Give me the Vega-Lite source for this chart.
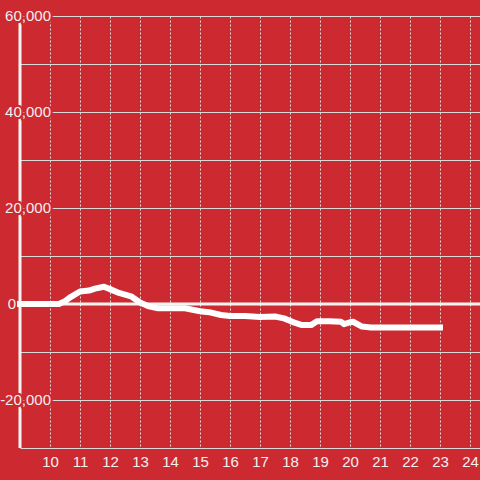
{
  "$schema": "https://vega.github.io/schema/vega-lite/v6.json",
  "width": 460,
  "height": 432,
  "autosize": {"type": "none"},
  "padding": {"left": 20, "top": 16, "right": 0, "bottom": 32},
  "background": "#cc2a30",
  "config": {
    "view": {"stroke": null},
    "font": "Liberation Sans",
    "axisX": {
      "grid": true, "gridDash": [2, 2], "gridColor": "#dddddd", "gridOpacity": 1,
      "domain": false, "ticks": false, "labelOverlap": false,
      "labelColor": "#f0f0f0", "labelFontSize": 15, "labelPadding": 6,
      "labelFlush": false, "labelFont": "Liberation Sans", "title": null
    },
    "axisY": {
      "grid": true, "gridColor": "#d9d9d9", "gridOpacity": 1,
      "labels": false, "domain": false, "ticks": false, "title": null
    }
  },
  "datasets": {
    "series": [
      {"hour": 9.0, "value": 0},
      {"hour": 10.0, "value": 0},
      {"hour": 10.3, "value": 0},
      {"hour": 10.5, "value": 600},
      {"hour": 10.7, "value": 1500},
      {"hour": 11.0, "value": 2600},
      {"hour": 11.3, "value": 2800},
      {"hour": 11.5, "value": 3200},
      {"hour": 11.8, "value": 3600},
      {"hour": 12.0, "value": 3100},
      {"hour": 12.3, "value": 2300},
      {"hour": 12.7, "value": 1600},
      {"hour": 13.0, "value": 300},
      {"hour": 13.3, "value": -500},
      {"hour": 13.6, "value": -900},
      {"hour": 14.0, "value": -900},
      {"hour": 14.5, "value": -900},
      {"hour": 15.0, "value": -1500},
      {"hour": 15.3, "value": -1700},
      {"hour": 15.7, "value": -2300},
      {"hour": 16.0, "value": -2500},
      {"hour": 16.5, "value": -2500},
      {"hour": 17.0, "value": -2700},
      {"hour": 17.5, "value": -2600},
      {"hour": 17.8, "value": -3000},
      {"hour": 18.2, "value": -4000},
      {"hour": 18.4, "value": -4400},
      {"hour": 18.7, "value": -4400},
      {"hour": 18.9, "value": -3600},
      {"hour": 19.3, "value": -3600},
      {"hour": 19.7, "value": -3700},
      {"hour": 19.8, "value": -4200},
      {"hour": 20.0, "value": -3800},
      {"hour": 20.1, "value": -3700},
      {"hour": 20.4, "value": -4700},
      {"hour": 20.7, "value": -4900},
      {"hour": 23.0, "value": -4900}
    ],
    "yticks": [
      {"value": 60000, "label": "60,000"},
      {"value": 40000, "label": "40,000"},
      {"value": 20000, "label": "20,000"},
      {"value": 0, "label": "0"},
      {"value": -20000, "label": "-20,000"}
    ],
    "one": [{}]
  },
  "layer": [
    {
      "data": {"name": "series"},
      "mark": {"type": "line", "opacity": 0},
      "encoding": {
        "x": {
          "field": "hour", "type": "quantitative", "title": null,
          "scale": {"domain": [9, 24.333], "nice": false, "zero": false},
          "axis": {"values": [10, 11, 12, 13, 14, 15, 16, 17, 18, 19, 20, 21, 22, 23, 24]}
        },
        "y": {
          "field": "value", "type": "quantitative", "title": null,
          "scale": {"domain": [-30000, 60000], "nice": false},
          "axis": {"values": [-30000, -20000, -10000, 0, 10000, 20000, 30000, 40000, 50000, 60000]}
        }
      }
    },
    {
      "data": {"name": "one"},
      "mark": {"type": "rule", "color": "#f4f4f4", "strokeWidth": 3},
      "encoding": {"x": {"datum": 9, "type": "quantitative", "title": null, "axis": {"values": [10, 11, 12, 13, 14, 15, 16, 17, 18, 19, 20, 21, 22, 23, 24]}}}
    },
    {
      "data": {"name": "yticks"},
      "transform": [{"filter": "datum.value != 0"}],
      "mark": {"type": "text", "align": "right", "baseline": "middle", "dx": 31, "fontSize": 15, "font": "Liberation Sans", "fill": "#cc2a30", "stroke": "#cc2a30", "strokeWidth": 4.5, "strokeJoin": "round"},
      "encoding": {
        "x": {"datum": 9, "type": "quantitative", "title": null, "axis": {"values": [10, 11, 12, 13, 14, 15, 16, 17, 18, 19, 20, 21, 22, 23, 24]}},
        "y": {"field": "value", "type": "quantitative", "title": null, "axis": {"values": [-30000, -20000, -10000, 0, 10000, 20000, 30000, 40000, 50000, 60000]}},
        "text": {"field": "label", "type": "nominal"}
      }
    },
    {
      "data": {"name": "yticks"},
      "transform": [{"filter": "datum.value != 0"}],
      "mark": {"type": "text", "align": "right", "baseline": "middle", "dx": 31, "fontSize": 15, "font": "Liberation Sans", "fill": "#f0f0f0"},
      "encoding": {
        "x": {"datum": 9, "type": "quantitative", "title": null, "axis": {"values": [10, 11, 12, 13, 14, 15, 16, 17, 18, 19, 20, 21, 22, 23, 24]}},
        "y": {"field": "value", "type": "quantitative", "title": null, "axis": {"values": [-30000, -20000, -10000, 0, 10000, 20000, 30000, 40000, 50000, 60000]}},
        "text": {"field": "label", "type": "nominal"}
      }
    },
    {
      "data": {"name": "yticks"},
      "transform": [{"filter": "datum.value == 0"}],
      "mark": {"type": "text", "align": "right", "baseline": "middle", "dx": -4, "fontSize": 15, "font": "Liberation Sans", "fill": "#f0f0f0"},
      "encoding": {
        "x": {"datum": 9, "type": "quantitative", "title": null, "axis": {"values": [10, 11, 12, 13, 14, 15, 16, 17, 18, 19, 20, 21, 22, 23, 24]}},
        "y": {"field": "value", "type": "quantitative", "title": null, "axis": {"values": [-30000, -20000, -10000, 0, 10000, 20000, 30000, 40000, 50000, 60000]}},
        "text": {"field": "label", "type": "nominal"}
      }
    },
    {
      "data": {"name": "one"},
      "mark": {"type": "rule", "color": "#f4f4f4", "strokeWidth": 3},
      "encoding": {"y": {"datum": 0, "type": "quantitative", "title": null, "axis": {"values": [-30000, -20000, -10000, 0, 10000, 20000, 30000, 40000, 50000, 60000]}}}
    },
    {
      "data": {"name": "series"},
      "mark": {"type": "line", "color": "#ffffff", "strokeWidth": 6, "strokeCap": "square", "strokeJoin": "round"},
      "encoding": {
        "x": {"field": "hour", "type": "quantitative", "title": null, "axis": {"values": [10, 11, 12, 13, 14, 15, 16, 17, 18, 19, 20, 21, 22, 23, 24]}},
        "y": {"field": "value", "type": "quantitative", "title": null, "axis": {"values": [-30000, -20000, -10000, 0, 10000, 20000, 30000, 40000, 50000, 60000]}}
      }
    }
  ]
}
